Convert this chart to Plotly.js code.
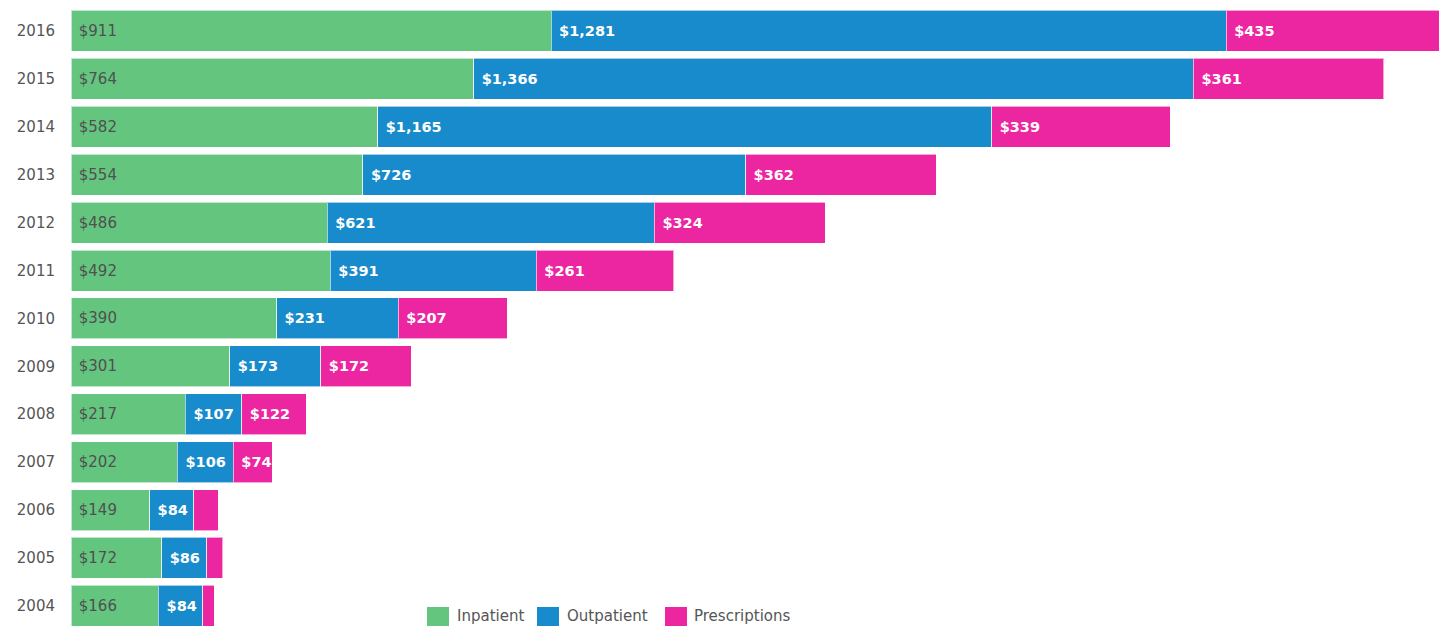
<!DOCTYPE html>
<html>
<head>
<meta charset="utf-8">
<script src="https://cdn.plot.ly/plotly-3.0.1.min.js"></script>
<style>html,body{margin:0;padding:0;overflow:hidden;background:#fff}</style>
</head>
<body>
<div id="chart" style="width:1439px;height:626px"></div>
<script>
const years = ['2004','2005','2006','2007','2008','2009','2010','2011','2012','2013','2014','2015','2016'];
const inpatient = [166,172,149,202,217,301,390,492,486,554,582,764,911];
const outpatient = [84,86,84,106,107,173,231,391,621,726,1165,1366,1281];
const prescriptions = [22,30,46,74,122,172,207,261,324,362,339,361,435];
const seriesNames = ['Inpatient','Outpatient','Prescriptions'];
const colors = ['#64c57f','#178bcc','#ec26a1'];

const FONT = '"DejaVu Sans", sans-serif';
function labels(vals){ return vals.map(v => v >= 50 ? ' $' + v.toLocaleString('en-US') : ''); }

const series = [inpatient, outpatient, prescriptions];
const traces = series.map((vals, i) => ({
  type: 'bar', orientation: 'h', name: seriesNames[i],
  y: years, x: vals,
  text: labels(vals),
  textposition: 'inside', insidetextanchor: 'start', constraintext: 'none', textangle: 0,
  insidetextfont: {family: FONT, size: i === 0 ? 15 : 14.5, color: i === 0 ? '#505050' : '#ffffff', weight: i === 0 ? 400 : 700},
  textfont: {family: FONT, size: i === 0 ? 15 : 14.5, color: i === 0 ? '#505050' : '#ffffff', weight: i === 0 ? 400 : 700},
  marker: {color: colors[i], line: {color: 'rgba(255,255,255,0.6)', width: 1}},
  hoverinfo: 'skip'
}));

// custom legend (pixel positions converted to paper coords)
const L = 71, W = 1368, T = 7, H = 619;
const px = x => (x - L) / W;
const py = y => (T + H - y) / H;
const legendItems = [
  {sx: 427, tx: 455},
  {sx: 537, tx: 565},
  {sx: 665, tx: 692}
];
const shapes = legendItems.map((it, i) => ({
  type: 'rect', xref: 'paper', yref: 'paper',
  x0: px(it.sx), x1: px(it.sx + 22), y0: py(630), y1: py(607),
  fillcolor: colors[i], line: {width: 0}
}));
const annotations = legendItems.map((it, i) => ({
  xref: 'paper', yref: 'paper', x: px(it.tx), y: py(616),
  xanchor: 'left', yanchor: 'middle', showarrow: false,
  text: seriesNames[i], font: {family: FONT, size: 15, color: '#555'}
}));

Plotly.newPlot('chart', traces, {
  width: 1439, height: 626,
  margin: {l: L, r: 0, t: T, b: 0},
  barmode: 'stack', bargap: 0.144,
  showlegend: false,
  paper_bgcolor: '#fff', plot_bgcolor: '#fff',
  xaxis: {range: [0, 2596], visible: false, fixedrange: true},
  yaxis: {type: 'category', categoryorder: 'array', categoryarray: years,
    range: [-0.42, 12.5], showgrid: false, zeroline: false, ticks: '',
    ticklabelstandoff: 15,
    tickfont: {family: FONT, size: 15, color: '#555'}, fixedrange: true},
  shapes: shapes, annotations: annotations,
  font: {family: FONT}
}, {displayModeBar: false, staticPlot: true});
</script>
</body>
</html>
